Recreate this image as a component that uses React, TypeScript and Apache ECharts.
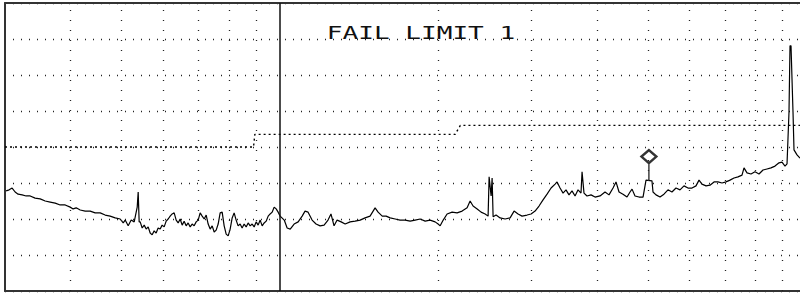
import { useEffect, useRef } from "react";
import * as echarts from "echarts";

// Measured trace: frequency (MHz) and level (dBµV/m)
const TRACE_FREQ_MHZ = [
  30.15, 30.55, 30.95, 31.36, 31.77, 32.34, 32.91, 33.49, 34.23, 34.99,
  35.77, 36.56, 37.37, 38.19, 39.04, 39.9, 40.42, 40.96, 41.69, 42.61,
  43.55, 44.51, 45.5, 46.5, 47.53, 48.58, 49.66, 50.32, 50.76, 51.43,
  52.11, 52.8, 53.5, 53.73, 53.96,
  54.2, 54.68, 55.16, 55.64, 56.13, 56.62, 57.12, 57.62, 58.12, 58.63,
  59.15, 59.67, 60.2, 60.73, 61.26, 61.8, 62.34, 62.89, 63.45, 64.0,
  64.56, 65.13, 65.7, 66.28, 66.86, 67.45, 68.04, 68.64, 69.24, 69.86,
  70.47, 71.09, 71.72, 72.35, 72.98, 73.62, 74.27, 74.92, 75.58, 76.24,
  76.91, 77.59, 78.27, 78.96, 79.65, 80.35, 81.06, 81.76, 82.48, 83.2,
  83.94, 84.67, 85.42, 86.18, 86.93, 87.7, 88.47, 89.25, 90.03, 90.82,
  91.62, 92.43, 93.24, 94.06, 94.89, 95.72, 96.56, 97.41, 98.26, 99.13,
  100.0,
  101.8, 103.1, 104.5,
  106.3, 108.2, 110.1, 111.5, 113.0, 115.0, 117.0, 119.1, 121.2, 123.3,
  124.9, 126.6, 128.3, 130.6, 132.9, 135.8, 138.8, 141.9, 145.0, 148.2,
  151.5, 153.5, 156.3, 159.0, 161.8, 165.4, 169.0, 172.8, 176.6, 180.5,
  184.5, 188.6, 192.7, 197.0, 199.6, 201.4, 204.1, 207.6, 212.2, 216.9,
  221.7, 226.6, 229.6, 232.6, 236.8, 240.9, 245.2, 248.4, 249.5, 251.7,
  252.8, 253.9, 257.2, 261.8, 267.6, 273.5, 278.3, 283.2, 288.2, 294.6,
  299.8, 305.1, 310.4, 315.9, 321.5, 327.2, 333.0, 335.9, 340.3, 344.8,
  349.3, 353.9, 358.6, 363.4, 368.2, 373.0, 374.7, 377.9, 382.9, 389.7,
  396.6, 405.4, 414.3, 421.6, 429.1, 434.7, 440.5, 448.2, 456.2, 462.2,
  466.3, 472.4, 480.8, 489.3, 495.7, 508.8, 511.1, 517.9, 527.0, 536.2,
  545.7, 555.3, 565.2, 575.2, 585.3, 595.7, 606.2, 616.9, 625.1, 633.3,
  644.5, 655.9, 667.5, 679.3, 691.2, 703.5, 715.9, 728.5, 741.4, 754.5,
  761.1, 771.1, 784.7, 798.6, 812.7, 827.1, 841.7, 856.5, 871.7, 887.1,
  898.8, 910.7, 918.7, 926.7, 930.8, 934.9, 943.1, 947.2, 959.8, 972.4,
];
const TRACE_LEVEL_DB = [
  27.8, 28.1, 28.6, 27.5, 26.9, 26.7, 26.4, 26.4, 25.8, 25.6,
  25.0, 24.7, 24.4, 23.9, 23.9, 23.3, 22.8, 23.1, 22.5, 22.2,
  22.2, 21.7, 21.7, 21.1, 20.8, 20.3, 20.0, 18.9, 19.7, 18.1,
  19.7, 19.2, 23.3, 27.5, 19.2,
  19.2, 17.5, 18.3, 17.2, 17.8, 16.1, 15.6, 16.7, 16.1, 17.5,
  17.2, 18.3, 17.8, 19.4, 20.0, 20.8, 21.4, 21.7, 19.7, 18.9,
  20.0, 18.3, 19.4, 18.1, 18.9, 17.8, 18.6, 18.1, 19.2, 19.7,
  21.7, 20.8, 20.0, 21.1, 18.6, 17.2, 18.1, 16.4, 16.9, 18.6,
  21.7, 21.9, 18.1, 15.8, 15.3, 17.2, 20.3, 21.7, 19.7, 18.1,
  18.6, 17.5, 18.6, 17.8, 18.9, 18.1, 18.6, 17.8, 19.2, 18.3,
  19.7, 18.1, 18.9, 19.4, 20.8, 21.4, 21.9, 23.3, 22.8, 21.9,
  20.8,
  19.7, 17.5, 17.2,
  18.6, 19.2, 20.8, 22.2, 21.9, 19.7, 18.6, 18.1, 18.3, 19.7,
  21.4, 18.1, 19.7, 19.2, 18.6, 19.2, 19.4, 19.7, 20.3, 20.8,
  23.1, 21.9, 20.8, 20.8, 20.3, 20.0, 19.7, 19.7, 19.4, 19.7,
  20.0, 19.4, 19.7, 19.2, 18.6, 18.1, 19.7, 21.4, 21.9, 21.7,
  22.2, 23.1, 25.0, 23.6, 22.8, 21.9, 21.4, 20.8, 31.7, 26.4,
  31.4, 20.6, 21.1, 20.3, 20.0, 20.3, 22.2, 21.4, 20.8, 21.1,
  21.4, 22.2, 23.6, 25.3, 26.9, 28.6, 29.7, 30.3, 28.6, 27.2,
  28.1, 26.7, 27.8, 26.4, 28.1, 27.2, 33.1, 27.2, 26.4, 26.7,
  26.1, 26.4, 27.5, 26.7, 28.6, 30.3, 27.5, 26.9, 26.1, 27.5,
  28.3, 26.4, 26.1, 26.1, 30.8, 30.6, 27.5, 26.7, 26.1, 26.9,
  28.1, 27.5, 28.6, 28.1, 29.2, 28.6, 28.6, 29.2, 30.8, 29.7,
  29.2, 29.4, 30.3, 30.3, 30.0, 30.3, 30.8, 31.4, 31.7, 32.2,
  34.2, 32.8, 32.5, 33.1, 32.5, 33.6, 33.9, 34.2, 34.7, 35.6,
  35.8, 34.7, 35.3, 49.7, 68.1, 68.1, 49.7, 39.2, 37.8, 36.9,
];

// Limit line (FCC class B, 3 m)
const LIMIT_FREQ_MHZ = [30, 89, 89.5, 215, 220, 1000];
const LIMIT_LEVEL_DB = [40, 40, 43.5, 43.5, 46, 46];

// Frequency span shown (the screenshot is cut just before 1 GHz)
const X_MIN_MHZ = 30;
const X_MAX_MHZ = 972.4;

// Grid
const MINOR_FREQ_MHZ = [40, 50, 60, 70, 80, 90, 200, 300, 400, 500, 600, 700, 800, 900];
const DECADE_FREQ_MHZ = [100];

// Marker
const MARKER_FREQ_MHZ = 502;
const MARKER_LEVEL_DB = 30.8;

const TITLE = "FAIL LIMIT 1";

export default function App() {
  const ref = useRef<HTMLDivElement>(null);

  useEffect(() => {
    document.body.style.margin = "0";
    const chart = echarts.init(ref.current!, null, { renderer: "svg" });

    const trace = TRACE_FREQ_MHZ.map((f, i) => [f, TRACE_LEVEL_DB[i]]);
    const limit = LIMIT_FREQ_MHZ.map((f, i) => [f, LIMIT_LEVEL_DB[i]]);

    const hiddenX = {
      type: "log",
      logBase: 10,
      min: X_MIN_MHZ,
      max: X_MAX_MHZ,
      axisTick: { show: false },
      axisLabel: { show: false },
      splitLine: { show: false },
      minorSplitLine: { show: false },
    };

    chart.setOption({
      animation: false,
      backgroundColor: "#fff",
      grid: {
        left: 5,
        top: 3,
        right: 0,
        height: 288,
        show: false,
      },
      xAxis: [
        {
          ...hiddenX,
          position: "bottom",
          axisLine: { show: true, onZero: false, lineStyle: { color: "#333", width: 2 } },
        },
        {
          ...hiddenX,
          position: "top",
          axisLine: { show: true, onZero: false, lineStyle: { color: "#333", width: 2 } },
        },
      ],
      yAxis: {
        type: "value",
        min: 0,
        max: 80,
        interval: 10,
        axisLine: { show: true, lineStyle: { color: "#333", width: 2 } },
        axisTick: { show: false },
        axisLabel: { show: false },
        splitLine: {
          show: true,
          lineStyle: { color: "#222", width: 1.3, type: [1, 7] },
        },
      },
      graphic: [
        {
          type: "text",
          x: 421,
          y: 33,
          scaleX: 1.45,
          z: 10,
          style: {
            text: TITLE,
            fontSize: 18,
            fontFamily: "DejaVu Sans Mono",
            fill: "#111",
            textAlign: "center",
            textVerticalAlign: "middle",
            align: "center",
            verticalAlign: "middle",
          },
        },
      ],
      series: [
        {
          type: "line",
          name: "limit",
          data: limit,
          symbol: "none",
          silent: true,
          z: 2,
          lineStyle: { color: "#000", width: 1.4, type: [2, 3] },
          markLine: {
            silent: true,
            symbol: "none",
            label: { show: false },
            data: [
              ...MINOR_FREQ_MHZ.map((f) => ({
                xAxis: f,
                lineStyle: { color: "#222", width: 1.3, type: [1, 9] },
              })),
              ...DECADE_FREQ_MHZ.map((f) => ({
                xAxis: f,
                lineStyle: { color: "#111", width: 1.5, type: "solid" },
              })),
            ],
          },
        },
        {
          type: "line",
          name: "trace",
          data: trace,
          symbol: "none",
          silent: true,
          z: 3,
          lineStyle: { color: "#000", width: 1.2 },
        },
        {
          type: "scatter",
          name: "marker",
          data: [[MARKER_FREQ_MHZ, MARKER_LEVEL_DB]],
          symbol: "path://M7.5,0 L15,6.5 L7.5,13 L0,6.5 Z M7.5,13 L7.5,30",
          symbolSize: [15, 30],
          symbolOffset: [0, -15],
          silent: true,
          z: 4,
          itemStyle: { color: "#fff", borderColor: "#000", borderWidth: 2 },
        },
      ],
    });

    return () => chart.dispose();
  }, []);

  return <div ref={ref} style={{ width: 800, height: 294 }} />;
}
